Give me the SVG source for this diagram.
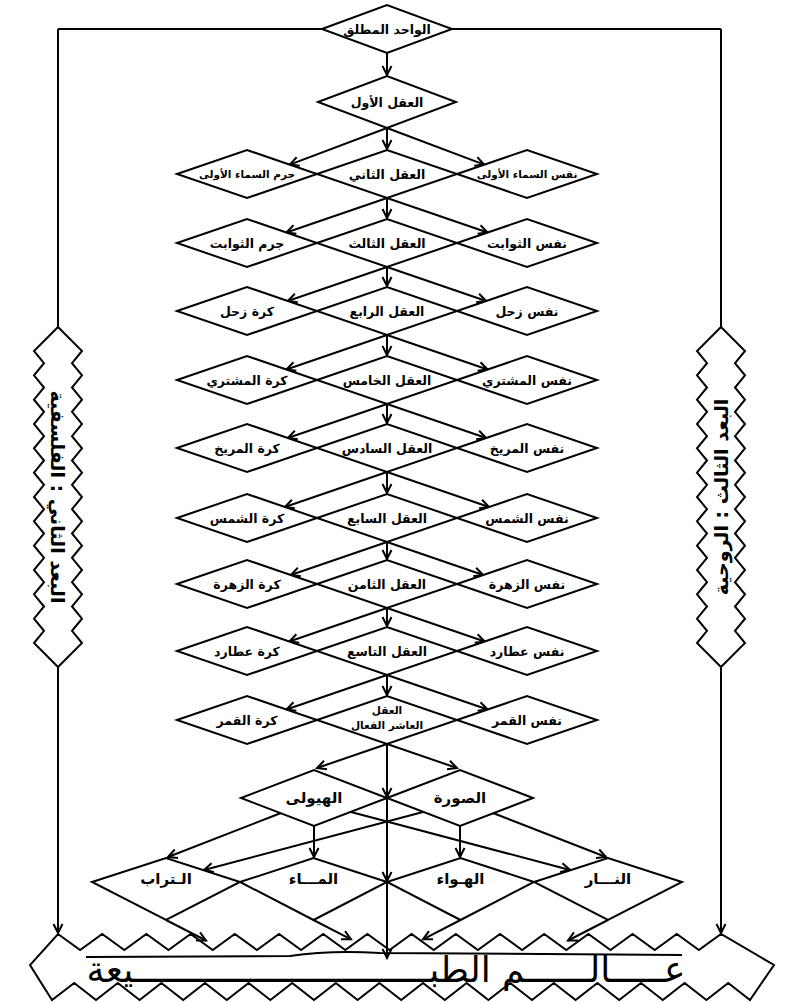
<svg xmlns="http://www.w3.org/2000/svg" width="787" height="1002" viewBox="0 0 787 1002">
<style>
.n{fill:#fff;stroke:#000;stroke-width:2;stroke-linejoin:miter}
.c{fill:none;stroke:#000;stroke-width:2}
.a{marker-end:url(#ah)}
.t{font-family:'DejaVu Sans',sans-serif;font-weight:bold;font-size:12.5px;text-anchor:middle;fill:#000}
.ts{font-family:'DejaVu Sans',sans-serif;font-weight:bold;font-size:10.5px;text-anchor:middle;fill:#000}
.t2{font-family:'DejaVu Sans',sans-serif;font-weight:bold;font-size:15px;text-anchor:middle;fill:#000}
.s{font-family:'DejaVu Sans',sans-serif;font-weight:bold;font-size:19px;text-anchor:middle;fill:#000}
.big{font-family:'DejaVu Sans',sans-serif;font-size:36px;text-anchor:middle;fill:#000}
</style>
<defs>
<marker id="ah" viewBox="-11 -7 13 14" markerWidth="13" markerHeight="14" refX="0" refY="0" orient="auto" markerUnits="userSpaceOnUse">
<path d="M-9,-4.5 L0,0 L-9,4.5" fill="none" stroke="#000" stroke-width="2"/>
</marker>
</defs>
<rect width="787" height="1002" fill="#fff"/>

<g id="connectors">
<path class="c" d="M58,29 L322,29 M452,29 L721,29 M58,29 L58,327 M721,29 L721,327"/>
<path class="c a" d="M58,667 L58,933"/>
<path class="c a" d="M721,667 L721,933"/>
<path class="c a" d="M387,53 L387,75"/>
<path class="c a" d="M387,128 L289.8,164.6"/>
<path class="c a" d="M387,128 L484.2,164.6"/>
<path class="c a" d="M387,128 L387,149"/>
<path class="c a" d="M387,198 L387,218"/>
<path class="c a" d="M387,198 L286.4,232.5"/>
<path class="c a" d="M387,198 L487.6,232.5"/>
<path class="c a" d="M387,267 L387,286"/>
<path class="c a" d="M387,267 L287.8,301"/>
<path class="c a" d="M387,267 L486.2,301"/>
<path class="c a" d="M387,335 L387,355"/>
<path class="c a" d="M387,335 L286.4,369.5"/>
<path class="c a" d="M387,335 L487.6,369.5"/>
<path class="c a" d="M387,404 L387,423"/>
<path class="c a" d="M387,404 L287.8,438"/>
<path class="c a" d="M387,404 L486.2,438"/>
<path class="c a" d="M387,472 L387,493"/>
<path class="c a" d="M387,472 L284.9,507"/>
<path class="c a" d="M387,472 L489.1,507"/>
<path class="c a" d="M387,542 L387,559"/>
<path class="c a" d="M387,542 L290.8,575"/>
<path class="c a" d="M387,542 L483.2,575"/>
<path class="c a" d="M387,608 L387,626"/>
<path class="c a" d="M387,608 L289.3,641.5"/>
<path class="c a" d="M387,608 L484.7,641.5"/>
<path class="c a" d="M387,675 L387,695"/>
<path class="c a" d="M387,675 L286.4,709.5"/>
<path class="c a" d="M387,675 L487.6,709.5"/>
<path class="c a" d="M387,744 L387,797"/>
<path class="c a" d="M387,797 L387,881"/>
<path class="c a" d="M387,881 L387,958"/>
<path class="c a" d="M387,744 L317,768"/>
<path class="c a" d="M387,744 L457,768"/>
<path class="c a" d="M314,826 L314,857"/>
<path class="c a" d="M460,826 L460,857"/>
<path class="c a" d="M281,813 L168,857"/>
<path class="c a" d="M351,812 L570,870"/>
<path class="c a" d="M423,812 L204,870"/>
<path class="c a" d="M493,813 L606,857"/>
<path class="c a" d="M166,920 L206,940.5"/>
<path class="c a" d="M313.5,920 L351,939.3"/>
<path class="c a" d="M460.5,920 L423,939.3"/>
<path class="c a" d="M608,920 L568,940.5"/>
</g>

<g id="n-wahid"><polygon class="n" points="322,29 387,5 452,29 387,53"/><text class="t" x="387" y="34">الواحد المطلق</text></g>
<g id="n-aql1"><polygon class="n" points="318,102 387,76 456,102 387,128"/><text class="t" x="387" y="107">العقل الأول</text></g>

<g id="n-r2l"><polygon class="n" points="177,174 247,150 317,174 247,198"/><text class="ts" x="247" y="178">جرم السماء الأولى</text></g>
<g id="n-r2m"><polygon class="n" points="317,174 387,150 457,174 387,198"/><text class="t" x="387" y="179">العقل الثاني</text></g>
<g id="n-r2r"><polygon class="n" points="457,174 527,150 597,174 527,198"/><text class="ts" x="527" y="178">نفس السماء الأولى</text></g>

<g id="n-r3l"><polygon class="n" points="177,243 247,219 317,243 247,267"/><text class="t" x="247" y="248">جرم الثوابت</text></g>
<g id="n-r3m"><polygon class="n" points="317,243 387,219 457,243 387,267"/><text class="t" x="387" y="248">العقل الثالث</text></g>
<g id="n-r3r"><polygon class="n" points="457,243 527,219 597,243 527,267"/><text class="t" x="527" y="248">نفس الثوابت</text></g>

<g id="n-r4l"><polygon class="n" points="177,311 247,287 317,311 247,335"/><text class="t" x="247" y="316">كرة زحل</text></g>
<g id="n-r4m"><polygon class="n" points="317,311 387,287 457,311 387,335"/><text class="t" x="387" y="316">العقل الرابع</text></g>
<g id="n-r4r"><polygon class="n" points="457,311 527,287 597,311 527,335"/><text class="t" x="527" y="316">نفس زحل</text></g>

<g id="n-r5l"><polygon class="n" points="177,380 247,356 317,380 247,404"/><text class="t" x="247" y="385">كرة المشتري</text></g>
<g id="n-r5m"><polygon class="n" points="317,380 387,356 457,380 387,404"/><text class="t" x="387" y="385">العقل الخامس</text></g>
<g id="n-r5r"><polygon class="n" points="457,380 527,356 597,380 527,404"/><text class="t" x="527" y="385">نفس المشتري</text></g>

<g id="n-r6l"><polygon class="n" points="177,448 247,424 317,448 247,472"/><text class="t" x="247" y="453">كرة المريخ</text></g>
<g id="n-r6m"><polygon class="n" points="317,448 387,424 457,448 387,472"/><text class="t" x="387" y="453">العقل السادس</text></g>
<g id="n-r6r"><polygon class="n" points="457,448 527,424 597,448 527,472"/><text class="t" x="527" y="453">نفس المريخ</text></g>

<g id="n-r7l"><polygon class="n" points="177,518 247,494 317,518 247,542"/><text class="t" x="247" y="523">كرة الشمس</text></g>
<g id="n-r7m"><polygon class="n" points="317,518 387,494 457,518 387,542"/><text class="t" x="387" y="523">العقل السابع</text></g>
<g id="n-r7r"><polygon class="n" points="457,518 527,494 597,518 527,542"/><text class="t" x="527" y="523">نفس الشمس</text></g>

<g id="n-r8l"><polygon class="n" points="177,584 247,560 317,584 247,608"/><text class="t" x="247" y="589">كرة الزهرة</text></g>
<g id="n-r8m"><polygon class="n" points="317,584 387,560 457,584 387,608"/><text class="t" x="387" y="589">العقل الثامن</text></g>
<g id="n-r8r"><polygon class="n" points="457,584 527,560 597,584 527,608"/><text class="t" x="527" y="589">نفس الزهرة</text></g>

<g id="n-r9l"><polygon class="n" points="177,651 247,627 317,651 247,675"/><text class="t" x="247" y="656">كرة عطارد</text></g>
<g id="n-r9m"><polygon class="n" points="317,651 387,627 457,651 387,675"/><text class="t" x="387" y="656">العقل التاسع</text></g>
<g id="n-r9r"><polygon class="n" points="457,651 527,627 597,651 527,675"/><text class="t" x="527" y="656">نفس عطارد</text></g>

<g id="n-r10l"><polygon class="n" points="177,720 247,696 317,720 247,744"/><text class="t" x="247" y="725">كرة القمر</text></g>
<g id="n-r10m"><polygon class="n" points="317,720 387,696 457,720 387,744"/><text class="ts" x="387" y="714">العقل</text><text class="ts" x="387" y="729">العاشر الفعال</text></g>
<g id="n-r10r"><polygon class="n" points="457,720 527,696 597,720 527,744"/><text class="t" x="527" y="725">نفس القمر</text></g>

<g id="n-hayula"><polygon class="n" points="241,798 314,770 387,798 314,826"/><text class="t2" x="314" y="803">الهيولى</text></g>
<g id="n-sura"><polygon class="n" points="387,798 460,770 533,798 460,826"/><text class="t2" x="460" y="803">الصورة</text></g>

<g id="n-turab"><polygon class="n" points="92,882 166,858 240,882 166,920"/><text class="t2" x="166" y="884">الـتراب</text></g>
<g id="n-maa"><polygon class="n" points="240,882 313.5,858 387,882 313.5,920"/><text class="t2" x="313.5" y="884">المـــاء</text></g>
<g id="n-hawa"><polygon class="n" points="387,882 460.5,858 534,882 460.5,920"/><text class="t2" x="460.5" y="884">الهـواء</text></g>
<g id="n-nar"><polygon class="n" points="534,882 608,858 682,882 608,920"/><text class="t2" x="608" y="884">النـــار</text></g>

<g id="n-left-bar">
<polygon class="n" points="58,327 34,351 44,363.2 34,375.3 44,387.5 34,399.7 44,411.8 34,424 44,436.2 34,448.3 44,460.5 34,472.7 44,484.8 34,497 44,509.2 34,521.3 44,533.5 34,545.7 44,557.8 34,570 44,582.2 34,594.3 44,606.5 34,618.7 44,630.8 34,643 58,667 82,643 72,630.8 82,618.7 72,606.5 82,594.3 72,582.2 82,570 72,557.8 82,545.7 72,533.5 82,521.3 72,509.2 82,497 72,484.8 82,472.7 72,460.5 82,448.3 72,436.2 82,424 72,411.8 82,399.7 72,387.5 82,375.3 72,363.2 82,351"/>
<text class="s" transform="translate(58,497) rotate(90)" x="0" y="7">البعد الثاني : الفلسفية</text>
</g>
<g id="n-right-bar">
<polygon class="n" points="721,327 697,351 707,363.2 697,375.3 707,387.5 697,399.7 707,411.8 697,424 707,436.2 697,448.3 707,460.5 697,472.7 707,484.8 697,497 707,509.2 697,521.3 707,533.5 697,545.7 707,557.8 697,570 707,582.2 697,594.3 707,606.5 697,618.7 707,630.8 697,643 721,667 745,643 735,630.8 745,618.7 735,606.5 745,594.3 735,582.2 745,570 735,557.8 745,545.7 735,533.5 745,521.3 735,509.2 745,497 735,484.8 745,472.7 735,460.5 745,448.3 735,436.2 745,424 735,411.8 745,399.7 735,387.5 745,375.3 735,363.2 745,351"/>
<text class="s" transform="translate(721,497) rotate(-90)" x="0" y="7">البعد الثالث : الروحية</text>
</g>

<g id="n-nature">
<path class="c" d="M58,934 L80.1,950 L102.2,934 L124.3,950 L146.4,934 L168.5,950 L190.6,934 L212.7,950 L234.8,934 L256.9,950 L279,934 L301.1,950 L323.2,934 L345.3,950 L367.4,934 L389.5,950 L411.6,934 L433.7,950 L455.8,934 L477.9,950 L500,934 L522.1,950 L544.2,934 L566.3,950 L588.4,934 L610.5,950 L632.6,934 L654.7,950 L676.8,934 L698.9,950 L721,934 L774,965 L750,1000 L728.2,983 L706.4,1000 L684.6,983 L662.8,1000 L641,983 L619.2,1000 L597.4,983 L575.6,1000 L553.8,983 L532,1000 L510.2,983 L488.4,1000 L466.6,983 L444.8,1000 L423,983 L401.2,1000 L379.4,983 L357.6,1000 L335.8,983 L314,1000 L292.2,983 L270.4,1000 L248.6,983 L226.8,1000 L205,983 L183.2,1000 L161.4,983 L139.6,1000 L117.8,983 L96,1000 L74.2,983 L52,1000 L30,965 Z"/>
<path class="c" d="M86,957 L290,956 Q330,950 380,953 L682,955"/>
<text class="big" x="386" y="982">عـــــالــــــم الطبــــــــــــــــــــــــــــيعة</text>
</g>
</svg>
